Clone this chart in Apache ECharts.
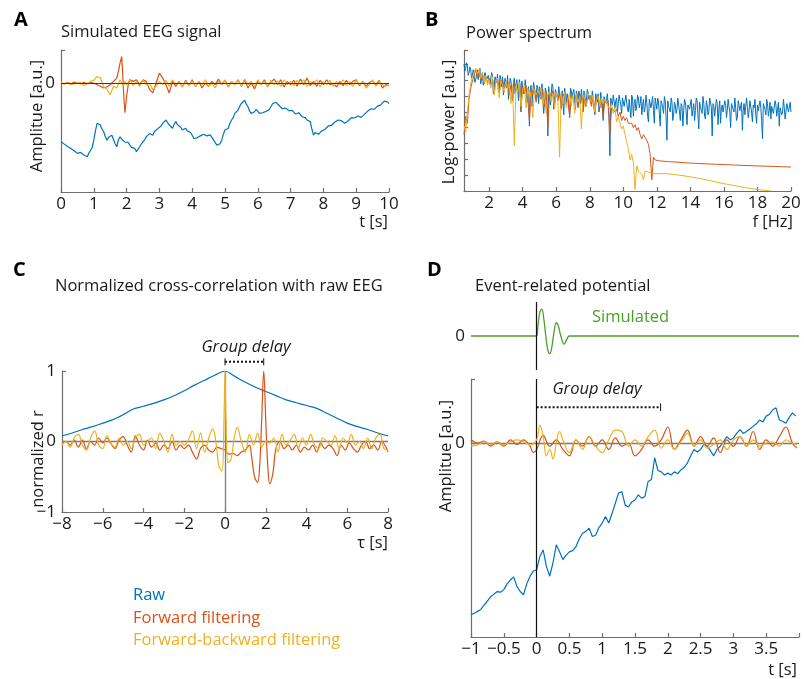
<!DOCTYPE html>
<html><head><meta charset="utf-8">
<script src="https://cdn.jsdelivr.net/npm/echarts@6/dist/echarts.min.js"></script>
<style>html,body{margin:0;padding:0;background:#fff}#c{width:804px;height:679px}</style>
</head><body><div id="c"></div>
<script>
// ---------- DATA ----------
// Panel A: simulated EEG (t in s), raw trace sampled every 0.05 s from t = 0
const aStep = 0.05;
const aBlue = [
 -1.78,-1.74,-1.85,-1.90,-1.92,-1.86,-1.98,-2.04,-2.05,-2.00,-2.13,-2.17,-2.10,-2.06,-2.18,-2.24,-2.23,-2.12,-2.08,-1.96,
 -1.73,-1.45,-1.22,-1.18,-1.27,-1.40,-1.47,-1.62,-1.73,-1.64,-1.68,-1.58,-1.63,-1.84,-1.93,-1.72,-1.63,-1.70,-1.73,-1.79,
 -1.83,-1.80,-1.88,-1.95,-1.93,-1.98,-2.08,-2.00,-1.93,-1.84,-1.78,-1.72,-1.63,-1.60,-1.53,-1.50,-1.58,-1.47,-1.42,-1.38,
 -1.32,-1.30,-1.22,-1.19,-1.12,-1.20,-1.27,-1.29,-1.37,-1.25,-1.17,-1.26,-1.32,-1.34,-1.42,-1.36,-1.37,-1.45,-1.47,-1.50,
 -1.58,-1.68,-1.73,-1.66,-1.68,-1.60,-1.63,-1.55,-1.53,-1.60,-1.58,-1.57,-1.63,-1.72,-1.78,-1.88,-1.93,-1.84,-1.73,-1.55,
 -1.42,-1.44,-1.37,-1.22,-1.12,-1.05,-0.92,-0.90,-0.82,-0.70,-0.62,-0.60,-0.52,-0.64,-0.72,-0.85,-0.92,-0.86,-0.87,-0.80,
 -0.82,-0.92,-0.97,-0.90,-0.92,-0.86,-0.82,-0.80,-0.72,-0.63,-0.57,-0.58,-0.62,-0.68,-0.72,-0.78,-0.82,-0.76,-0.77,-0.84,
 -0.82,-0.83,-0.87,-0.94,-0.97,-0.90,-0.92,-1.02,-1.07,-1.05,-1.12,-1.15,-1.17,-1.40,-1.58,-1.50,-1.47,-1.55,-1.53,-1.45,
 -1.42,-1.40,-1.37,-1.30,-1.32,-1.28,-1.27,-1.18,-1.12,-1.12,-1.07,-1.14,-1.17,-1.22,-1.22,-1.15,-1.12,-1.05,-1.02,-1.06,
 -1.07,-1.00,-0.97,-1.04,-1.02,-0.95,-0.92,-0.85,-0.82,-0.78,-0.72,-0.80,-0.77,-0.70,-0.67,-0.66,-0.62,-0.55,-0.52,-0.57,
 -0.62];
const aRed = [[0,0],[0.1,-0.03],[0.2,0.02],[0.3,-0.02],[0.4,0.03],[0.5,0],[0.6,-0.03],[0.7,0.02],[0.8,-0.02],[0.9,0.01],
 [1.0,0],[1.1,-0.05],[1.2,-0.1],[1.3,-0.15],[1.4,-0.12],[1.5,-0.05],[1.6,0.05],[1.7,0.15],[1.75,0.35],[1.8,0.6],[1.85,0.8],
 [1.88,0.3],[1.92,-0.5],[1.95,-0.9],[2.0,-0.4],[2.05,-0.05],[2.1,0.1],[2.2,0.05],[2.3,0.1],[2.4,-0.05],[2.5,0.1],[2.6,0.05],
 [2.7,-0.2],[2.8,-0.3],[2.9,0],[3.0,0.3],[3.1,0.15],[3.2,-0.05],[3.3,-0.3],[3.4,0.05],[3.5,-0.1],[3.6,0.05],[3.7,-0.12],
 [3.8,0.08],[3.9,-0.08],[4.0,0.1],[4.1,-0.1],[4.2,0.05],[4.3,-0.15],[4.4,0],[4.5,-0.1],[4.6,0.05],[4.7,-0.05],[4.8,0.12],
 [4.9,-0.05],[5.0,0.08],[5.1,-0.12],[5.2,0.05],[5.3,-0.05],[5.4,0.1],[5.5,-0.1],[5.6,0.08],[5.7,-0.15],[5.8,0],[5.9,-0.18],
 [6.0,0.05],[6.1,-0.05],[6.2,0.1],[6.3,-0.1],[6.4,0.02],[6.5,0.12],[6.6,-0.05],[6.7,0.1],[6.8,-0.12],[6.9,0.05],[7.0,-0.05],
 [7.1,0.08],[7.2,-0.1],[7.3,0.12],[7.4,-0.05],[7.5,0.15],[7.6,-0.08],[7.7,0.05],[7.8,-0.1],[7.9,0.08],[8.0,-0.05],[8.1,0.1],
 [8.2,-0.05],[8.3,0],[8.4,-0.12],[8.5,0.05],[8.6,-0.08],[8.7,0.08],[8.8,-0.05],[8.9,0.05],[9.0,0.1],[9.1,-0.08],[9.2,0.05],
 [9.3,-0.1],[9.4,0.02],[9.5,0.06],[9.6,-0.05],[9.7,0.08],[9.8,-0.15],[9.9,-0.05],[10,-0.08]];
const aYellow = [[0,0.02],[0.1,-0.02],[0.2,0.01],[0.3,-0.05],[0.4,-0.03],[0.5,0.01],[0.6,0.02],[0.7,-0.08],[0.8,-0.03],[0.9,0.05],
 [1.0,0.08],[1.1,0.2],[1.15,0.25],[1.2,0.15],[1.3,-0.1],[1.4,-0.2],[1.5,-0.35],[1.6,-0.1],[1.7,-0.15],[1.8,0.1],[1.85,0.15],
 [1.9,-0.1],[1.95,0.05],[2.0,-0.05],[2.1,0.1],[2.2,-0.08],[2.3,0.05],[2.4,-0.1],[2.5,0.08],[2.6,-0.05],[2.7,0],[2.8,-0.2],
 [2.9,-0.1],[3.0,0.05],[3.1,-0.05],[3.2,0.08],[3.3,-0.1],[3.4,0.1],[3.5,-0.05],[3.6,0.05],[3.7,-0.12],[3.8,0.05],[3.9,-0.08],
 [4.0,0.06],[4.1,-0.1],[4.2,0.05],[4.3,-0.05],[4.4,0.1],[4.5,-0.1],[4.6,0],[4.7,-0.15],[4.8,0.05],[4.9,-0.05],[5.0,0.1],
 [5.1,-0.12],[5.2,0.05],[5.3,-0.05],[5.4,0.08],[5.5,-0.1],[5.6,0.12],[5.7,-0.05],[5.8,0.05],[5.9,-0.1],[6.0,0.1],[6.1,-0.05],
 [6.2,0.05],[6.3,-0.12],[6.4,0.08],[6.5,-0.05],[6.6,0.06],[6.7,-0.1],[6.8,0.1],[6.9,-0.05],[7.0,0.05],[7.1,-0.08],[7.2,0.08],
 [7.3,-0.05],[7.4,0.1],[7.5,-0.1],[7.6,0.05],[7.7,-0.05],[7.8,0.1],[7.9,-0.12],[8.0,0.05],[8.1,-0.05],[8.2,0.08],[8.3,-0.1],
 [8.4,0.05],[8.5,-0.05],[8.6,0.1],[8.7,-0.08],[8.8,0.05],[8.9,-0.1],[9.0,0.08],[9.1,-0.05],[9.2,0.05],[9.3,-0.15],[9.4,-0.05],
 [9.5,0.1],[9.6,-0.1],[9.7,0.05],[9.8,-0.05],[9.9,-0.1],[10,-0.05]];

// Panel B: power spectrum (f in Hz, log-power arbitrary units)
// raw: values at 0.5, 0.6, ... 20.0 Hz and in-between values at 0.55, 0.65, ... 19.95 Hz
const bStart = 0.5, bStep = 0.1;
const bBlue = [9.0,8.7,8.9,8.4,8.6,
 8.2,8.5,7.9,8.6,8.3,7.6,8.4,8.1,8.5,7.8,
 8.3,7.7,8.2,7.4,8.0,8.3,7.2,7.9,8.1,7.5,
 7.9,8.2,7.0,7.8,6.6,8.0,7.6,7.3,7.9,5.6,
 7.7,7.2,7.8,6.8,4.6,7.5,7.0,7.6,6.5,7.3,
 7.4,6.7,7.5,6.2,7.2,3.9,7.3,6.9,7.4,6.4,
 7.2,6.6,7.3,5.9,7.0,7.3,6.3,6.9,5.2,7.1,
 7.0,6.5,7.1,6.0,6.8,7.2,5.7,6.9,6.4,7.0,
 6.8,6.2,7.0,5.4,6.7,6.9,6.0,6.6,5.0,6.8,
 6.5,6.9,2.5,6.3,6.8,5.9,6.6,6.2,6.7,5.5,
 6.6,6.1,6.7,5.6,6.4,6.8,5.3,6.5,6.0,6.6,
 6.2,5.4,6.5,5.9,6.3,4.9,6.4,6.0,5.7,6.6,
 5.8,6.3,4.6,6.2,5.5,6.4,3.6,6.0,5.6,6.3,
 5.4,6.1,5.8,6.5,5.0,6.0,5.7,6.3,4.7,6.2,
 5.9,5.3,6.2,5.7,6.4,4.4,6.0,5.5,6.2,5.1,
 6.1,5.6,6.3,3.9,6.0,5.4,6.2,5.8,4.8,6.1,
 5.5,6.2,5.7,6.0,4.5,6.3,5.6,5.9,5.2,6.1,
 5.8,4.3,6.2,5.5,6.0,5.7,6.3,4.9,5.9,5.4,
 6.1,5.6,5.9,3.7,6.0,5.4,6.2,5.7,5.1,6.0,
 5.5,6.1,5.8,4.6,6.0,5.6,5.9,5.2,6.1,5.7,
 5.6];
const bBlueMid = [8.5,9.1,8.2,8.8,8.0,
 8.6,7.7,8.3,7.9,8.7,8.0,7.5,8.4,7.9,8.2,
 7.6,8.4,6.9,8.1,7.7,7.0,8.2,7.4,6.8,8.0,
 7.3,6.5,8.0,7.1,7.7,6.9,7.9,6.4,7.5,7.8,
 6.9,7.9,6.3,7.4,7.1,6.0,7.7,6.9,7.5,6.2,
 7.1,7.6,5.5,7.3,6.8,7.4,6.1,7.6,5.8,7.2,
 6.8,7.4,6.5,7.1,5.4,7.2,6.9,6.1,7.3,6.6,
 7.2,5.8,6.9,7.1,6.2,6.6,7.1,6.0,7.2,6.5,
 6.6,7.1,5.9,6.9,6.3,5.6,7.0,6.1,6.7,6.3,
 6.9,5.2,6.6,6.1,6.9,6.4,5.6,6.8,6.1,6.6,
 6.0,6.8,5.8,6.5,5.2,6.6,6.2,5.7,6.8,5.9,
 6.7,6.0,5.6,6.8,5.3,6.5,5.9,6.7,4.8,6.2,
 6.6,5.5,6.4,5.9,6.7,5.2,6.4,5.8,6.6,5.0,
 6.3,5.5,6.6,5.6,6.2,4.6,6.5,5.6,6.1,5.8,
 6.5,5.8,5.0,6.6,5.4,6.3,5.7,6.7,5.3,6.4,
 5.4,6.6,5.9,6.2,5.3,6.5,4.7,6.4,5.9,5.6,
 6.4,5.2,6.5,5.6,6.2,5.8,6.6,5.0,6.4,5.7,
 6.3,5.7,5.4,6.6,5.2,6.4,5.6,6.1,6.5,4.8,
 5.7,6.4,5.0,6.2,5.8,6.5,5.3,6.3,6.0,5.5,
 6.4,5.3,6.3,5.9,5.4,6.5,5.1,6.2,5.6,6.3];
const bRedLow = [4.0,5.3,4.8,6.5,7.3,
 7.8,8.2,8.6,8.0,8.4,7.9,8.2,7.6,8.1,7.7,
 8.0,7.5,7.9,7.2,7.8,8.0,7.0,7.7,7.9,7.3,
 7.6,7.9,6.8,7.5,6.4,7.7,7.3,7.0,7.6,5.8,
 7.4,6.9,7.5,6.5,5.0,7.2,6.8,7.3,6.3,7.0,
 7.1,6.5,7.2,6.0,6.9,4.5,7.0,6.7,7.1,6.2,
 6.9,6.4,7.0,5.8,6.7,7.0,6.1,6.6,5.3,6.8,
 6.7,6.3,6.8,5.9,6.6,6.9,5.6,6.6,6.2,6.7,
 6.5,6.0,6.7,5.5,6.4,6.6,5.9,6.3,5.2,6.4,
 6.2,6.4,4.0,5.9,6.0,5.6,5.8,5.3,5.6,5.0,
 5.3,5.0,5.2,4.8,4.9,4.8,4.5,4.7,4.3,4.5,
 4.0,3.7,4.0,3.8,3.6,3.3,2.6,0.8,2.4,2.2,
 2.2,2.15,2.2,2.12,2.16,2.1,2.13,2.08,2.11,2.07];
const bRedTail = [[13,2.05],[13.5,2.02],[14,1.98],[14.5,1.95],[15,1.92],[15.5,1.9],[16,1.87],[16.5,1.85],[17,1.82],[17.5,1.8],[18,1.78],[18.5,1.76],[19,1.74],[19.5,1.72],[20,1.7]];
const bYelLow = [4.6,4.2,5.6,6.8,7.6,
 8.1,8.4,8.7,8.3,8.6,8.0,8.4,7.7,8.2,7.5,
 7.9,7.3,8.1,6.8,7.7,8.0,6.6,7.8,7.5,7.0,
 7.8,7.2,7.6,6.2,7.5,3.2,7.4,7.0,7.7,6.0,
 7.2,7.5,5.9,7.3,6.6,7.0,5.2,7.2,6.8,7.1,
 6.9,7.3,6.1,7.0,5.5,6.8,7.1,6.3,6.9,5.8,
 7.0,6.5,2.4,6.9,6.2,7.0,5.9,6.6,6.9,6.0,
 6.8,5.5,6.9,6.3,6.7,4.4,6.8,6.5,6.0,6.9,
 6.7,6.3,6.8,5.6,6.5,6.7,6.0,6.6,6.2,6.5,
 6.4,6.0,5.8,6.2,5.5,5.9,4.9,5.3,4.8,4.4,
 4.6,4.0,3.5,3.0,2.2,2.6,2.0,0.1,1.8,1.4,
 1.5,1.2,0.8,1.4,1.3,1.35,1.3,1.28,1.25,1.22];
const bYelTail = [[12,1.28],[12.5,1.24],[13,1.18],[13.5,1.1],[14,1.0],[14.5,0.9],[15,0.78],[15.5,0.65],[16,0.52],[16.5,0.41],[17,0.3],[17.5,0.19],[18,0.1],[18.4,0.05],[18.8,0.0]];

// Panel C: normalized cross-correlation (tau in s)
const cBlue = [[-8,0.08],[-7.5,0.12],[-7,0.17],[-6.5,0.21],[-6,0.26],[-5.5,0.31],[-5,0.38],[-4.5,0.46],[-4,0.5],[-3.5,0.54],
 [-3,0.59],[-2.5,0.65],[-2,0.72],[-1.5,0.8],[-1,0.87],[-0.5,0.94],[0,1.0],[0.5,0.92],[1,0.84],[1.5,0.77],[2,0.71],[2.5,0.65],
 [3,0.59],[3.5,0.55],[4,0.51],[4.5,0.47],[5,0.4],[5.5,0.33],[6,0.26],[6.5,0.21],[7,0.17],[7.5,0.12],[8,0.08]];
const cRed = [[-8,-0.02],[-7.8,0],[-7.6,-0.05],[-7.4,0.02],[-7.2,-0.08],[-7,0.02],[-6.8,-0.1],[-6.6,0],[-6.4,-0.05],[-6.2,0.05],
 [-6,-0.02],[-5.8,0.05],[-5.6,-0.03],[-5.4,-0.1],[-5.2,0.02],[-5,0.07],[-4.8,-0.05],[-4.6,-0.15],[-4.4,0.08],[-4.2,-0.05],
 [-4,-0.12],[-3.8,0.02],[-3.6,-0.08],[-3.4,-0.02],[-3.2,-0.12],[-3,-0.05],[-2.8,-0.1],[-2.6,0],[-2.4,-0.12],[-2.2,-0.05],
 [-2,-0.1],[-1.8,-0.05],[-1.6,-0.15],[-1.4,-0.25],[-1.2,-0.1],[-1,-0.05],[-0.8,-0.12],[-0.6,-0.15],[-0.4,-0.08],[-0.2,-0.1],
 [0,-0.12],[0.2,-0.18],[0.4,-0.17],[0.6,-0.2],[0.8,-0.15],[1,-0.12],[1.2,-0.05],[1.3,-0.2],[1.45,-0.5],[1.6,-0.58],[1.7,-0.35],
 [1.8,0.3],[1.9,1.0],[2.0,0.3],[2.1,-0.35],[2.2,-0.6],[2.35,-0.45],[2.5,-0.1],[2.7,0],[2.9,-0.1],[3.1,-0.05],[3.3,-0.12],
 [3.5,-0.05],[3.7,-0.15],[3.9,-0.08],[4.1,-0.12],[4.3,-0.05],[4.5,-0.15],[4.7,-0.02],[4.9,-0.1],[5.1,-0.05],[5.3,-0.1],
 [5.5,-0.2],[5.7,-0.05],[5.9,-0.12],[6.1,-0.02],[6.3,-0.1],[6.5,-0.15],[6.7,-0.05],[6.9,0],[7.1,-0.1],[7.3,-0.05],[7.5,-0.12],
 [7.7,0],[7.9,-0.08],[8,-0.15]];
const cYellow = [[-8,-0.05],[-7.8,0],[-7.6,-0.08],[-7.4,0.05],[-7.2,0.1],[-7,-0.05],[-6.8,-0.12],[-6.6,0.05],[-6.4,0.15],[-6.2,-0.05],
 [-6,-0.1],[-5.8,0.08],[-5.6,-0.02],[-5.4,-0.08],[-5.2,0.05],[-5,-0.05],[-4.8,0],[-4.6,-0.1],[-4.4,0.05],[-4.2,0.1],[-4,-0.05],
 [-3.8,0],[-3.6,0.05],[-3.4,-0.1],[-3.2,0.12],[-3,0],[-2.8,-0.15],[-2.6,0.1],[-2.4,-0.05],[-2.2,0],[-2,-0.05],[-1.8,0.02],
 [-1.6,0.15],[-1.4,-0.1],[-1.2,0.12],[-1,-0.15],[-0.8,0.05],[-0.6,0.18],[-0.45,0],[-0.3,-0.35],[-0.15,-0.42],[-0.05,0.3],[0,1.0],
 [0.05,0.3],[0.15,-0.3],[0.3,-0.25],[0.45,0.05],[0.6,0.2],[0.8,0],[1,-0.15],[1.2,0.1],[1.4,-0.05],[1.6,0.12],[1.8,-0.08],[2,0],
 [2.2,-0.02],[2.4,0.05],[2.6,-0.15],[2.8,0.1],[3,-0.05],[3.2,0.02],[3.4,0.1],[3.6,-0.1],[3.8,0.05],[4,-0.05],[4.2,0.1],[4.4,-0.05],
 [4.6,-0.1],[4.8,0.05],[5,0],[5.2,-0.05],[5.4,0.08],[5.6,-0.1],[5.8,0.05],[6,-0.02],[6.2,0.1],[6.4,-0.05],[6.6,0],[6.8,-0.1],
 [7,0.05],[7.2,-0.1],[7.4,0.05],[7.6,0.1],[7.8,-0.1],[8,-0.12]];
const cDelay = [0, 1.9];      // group delay span (s)

// Panel D: event-related potential (t in s)
const dSim = [[-1,0],[0,0],[0.02,0.3],[0.05,0.7],[0.08,0.79],[0.11,0.5],[0.14,0],[0.17,-0.4],[0.2,-0.52],[0.23,-0.35],[0.26,0.05],
 [0.3,0.39],[0.33,0.3],[0.37,0],[0.42,-0.24],[0.46,-0.1],[0.5,0],[4,0]];
const dBlue = [[-1,-2.68],[-0.95,-2.66],[-0.9,-2.63],[-0.85,-2.6],[-0.8,-2.53],[-0.75,-2.47],[-0.7,-2.4],[-0.65,-2.36],[-0.6,-2.32],
 [-0.55,-2.33],[-0.5,-2.29],[-0.45,-2.2],[-0.4,-2.14],[-0.35,-2.09],[-0.3,-2.24],[-0.25,-2.32],[-0.2,-2.37],[-0.15,-2.2],[-0.1,-2.08],
 [-0.05,-2.0],[0,-1.98],[0.05,-1.77],[0.1,-1.67],[0.15,-1.93],[0.2,-2.08],[0.25,-1.87],[0.3,-1.59],[0.35,-1.7],[0.4,-1.82],
 [0.45,-1.75],[0.5,-1.7],[0.55,-1.68],[0.6,-1.62],[0.65,-1.5],[0.7,-1.41],[0.75,-1.38],[0.8,-1.33],[0.85,-1.46],[0.9,-1.44],
 [0.95,-1.32],[1,-1.25],[1.05,-1.15],[1.1,-1.25],[1.15,-1.1],[1.2,-0.94],[1.25,-0.78],[1.3,-0.76],[1.35,-0.97],[1.4,-1.0],
 [1.45,-0.92],[1.5,-0.89],[1.55,-0.81],[1.6,-0.86],[1.65,-0.84],[1.7,-0.6],[1.75,-0.57],[1.8,-0.23],[1.85,-0.43],[1.9,-0.45],
 [1.95,-0.5],[2,-0.47],[2.05,-0.5],[2.1,-0.45],[2.15,-0.48],[2.2,-0.42],[2.25,-0.38],[2.3,-0.31],[2.35,-0.2],[2.4,-0.1],
 [2.45,-0.14],[2.5,-0.1],[2.55,-0.02],[2.6,-0.05],[2.65,-0.12],[2.7,-0.2],[2.75,-0.1],[2.8,-0.05],[2.85,0.02],[2.9,0.1],
 [2.95,0.05],[3,0.08],[3.05,0.15],[3.1,0.21],[3.15,0.15],[3.2,0.18],[3.25,0.22],[3.3,0.26],[3.35,0.3],[3.4,0.36],[3.45,0.33],
 [3.5,0.42],[3.55,0.45],[3.6,0.52],[3.65,0.55],[3.7,0.36],[3.75,0.34],[3.8,0.31],[3.85,0.4],[3.9,0.47],[3.95,0.42]];
const dRed = [[-1,0.05],[-0.9,0],[-0.8,0.03],[-0.7,-0.05],[-0.6,0.02],[-0.5,-0.05],[-0.4,0.05],[-0.3,-0.02],[-0.2,0.05],[-0.1,-0.05],
 [-0.05,-0.15],[0,-0.1],[0.1,0.12],[0.2,-0.05],[0.3,0.05],[0.4,-0.1],[0.5,-0.2],[0.6,0.05],[0.7,-0.05],[0.8,0.1],[0.9,-0.05],
 [1,0.05],[1.1,-0.1],[1.2,0.08],[1.3,-0.05],[1.4,0],[1.5,-0.2],[1.6,-0.1],[1.7,0.05],[1.8,-0.05],[1.9,0.05],[2,0.25],[2.1,-0.1],
 [2.2,0.05],[2.3,0.2],[2.4,-0.05],[2.5,0.1],[2.6,-0.05],[2.7,0.08],[2.8,-0.15],[2.9,0.05],[3,-0.05],[3.1,0.1],[3.2,-0.05],
 [3.3,0.18],[3.4,-0.1],[3.5,0.05],[3.6,-0.05],[3.7,0.1],[3.8,0.25],[3.9,0],[3.97,-0.08]];
const dYellow = [[-1,-0.05],[-0.9,-0.03],[-0.8,0.02],[-0.7,-0.02],[-0.6,0.02],[-0.5,-0.03],[-0.4,0.02],[-0.3,0.05],[-0.2,0.02],
 [-0.1,-0.03],[0,0.05],[0.05,0.28],[0.1,0.1],[0.15,-0.2],[0.2,-0.1],[0.25,-0.25],[0.3,0],[0.35,0.18],[0.4,0.05],[0.5,-0.15],
 [0.6,0.05],[0.7,-0.1],[0.8,0.1],[0.9,-0.05],[1,-0.15],[1.1,0.05],[1.2,0.2],[1.3,0.18],[1.4,-0.05],[1.5,0.05],[1.6,-0.05],
 [1.7,0.1],[1.8,0.2],[1.9,-0.08],[2,0.05],[2.1,-0.1],[2.2,0.02],[2.3,0.15],[2.4,-0.05],[2.5,0.05],[2.6,-0.08],[2.7,-0.02],
 [2.8,0.05],[2.9,-0.1],[3,0.05],[3.1,0.1],[3.2,-0.05],[3.3,0.05],[3.4,-0.05],[3.5,0],[3.6,0.02],[3.7,-0.05],[3.8,0.05],[3.9,0],[3.97,-0.02]];
const dDelay = [0, 1.89];

const legendNames = ['Raw', 'Forward filtering', 'Forward-backward filtering'];
const bTicks = [2,4,6,8,10,12,14,16,18,20];

// ---------- STYLE ----------
const FONT = '"Open Sans", sans-serif';
const BLUE = '#0072BD', RED = '#D95319', YEL = '#EDB120', GREEN = '#4A9E2A';
const AX = '#6e6e6e', TXT = '#1a1a1a';
const minus = v => String(v).replace('-', '\u2212');

const chart = echarts.init(document.getElementById('c'), null, {renderer: 'canvas'});

function xax(gi, min, max, extra) {
  return Object.assign({
    gridIndex: gi, type: 'value', min: min, max: max,
    axisLine: {show: true, onZero: false, lineStyle: {color: AX, width: 1.2}},
    axisTick: {show: true, inside: true, length: 4, lineStyle: {color: AX, width: 1.2}},
    axisLabel: {color: TXT, fontSize: 17, fontFamily: FONT, margin: 4, formatter: minus},
    splitLine: {show: false}
  }, extra || {});
}
function yax(gi, min, max, extra) {
  return Object.assign({
    gridIndex: gi, type: 'value', min: min, max: max,
    axisLine: {show: true, onZero: false, lineStyle: {color: AX, width: 1.2}},
    axisTick: {show: true, inside: true, length: 4, lineStyle: {color: AX, width: 1.2}},
    axisLabel: {color: TXT, fontSize: 17, fontFamily: FONT, margin: 6, formatter: minus},
    splitLine: {show: false}
  }, extra || {});
}
function line(gi, data, color, extra) {
  return Object.assign({
    type: 'line', xAxisIndex: gi, yAxisIndex: gi, data: data, showSymbol: false, symbol: 'none',
    lineStyle: {color: color, width: 1.2}, itemStyle: {color: color}, animation: false, silent: true
  }, extra || {});
}
function hvLine(axis, value, color, width) {
  const d = {}; d[axis] = value;
  return {silent: true, symbol: 'none', label: {show: false}, animation: false,
    lineStyle: {color: color, width: width, type: 'solid'}, data: [d]};
}

const aData = aBlue.map((v, i) => [+(i * aStep).toFixed(2), v]);
const bBlueData = [];
bBlue.forEach((v, i) => {
  bBlueData.push([+(bStart + i * bStep).toFixed(2), v]);
  if (i < bBlueMid.length) bBlueData.push([+(bStart + (i + 0.5) * bStep).toFixed(3), bBlueMid[i]]);
});
const bRedData = bRedLow.map((v, i) => [+(bStart + i * bStep).toFixed(2), v]).concat(bRedTail);
const bYelData = bYelLow.map((v, i) => [+(bStart + i * bStep).toFixed(2), v]).concat(bYelTail);

const cY = 1.13, dY = 0.56;  // vertical placement of the group-delay brackets (axis units)
const T = '16.5px ' + FONT, L = 'bold 20px ' + FONT, TI = 'italic 16.5px ' + FONT;

const option = {
  animation: false,
  grid: [
    {left: 61, top: 50, width: 328, height: 142},
    {left: 464, top: 50, width: 327, height: 141},
    {left: 62, top: 371, width: 326, height: 141},
    {left: 471, top: 302, width: 328, height: 68},
    {left: 471, top: 379, width: 328, height: 258}
  ],
  xAxis: [
    xax(0, 0, 10, {interval: 1}),
    xax(1, 0.5, 20, {axisTick: {show: true, inside: true, length: 4, customValues: bTicks, lineStyle: {color: AX, width: 1.2}},
      axisLabel: {color: TXT, fontSize: 17, fontFamily: FONT, margin: 4, customValues: bTicks}}),
    xax(2, -8, 8, {interval: 2}),
    xax(3, -1, 4, {show: false}),
    xax(4, -1, 4, {interval: 0.5, axisLabel: {color: TXT, fontSize: 17, fontFamily: FONT, margin: 4,
      formatter: v => (v >= 4 ? '' : minus(v))}})
  ],
  yAxis: [
    yax(0, -3.3, 1, {axisTick: {show: true, inside: true, length: 4, customValues: [0, 1], lineStyle: {color: AX, width: 1.2}},
      axisLabel: {color: TXT, fontSize: 17, fontFamily: FONT, margin: 6, customValues: [0]}}),
    yax(1, 0, 10, {interval: 1.123, axisLabel: {show: false}}),
    yax(2, -1, 1, {interval: 1}),
    yax(3, -1, 1, {axisLine: {show: false}, axisTick: {show: false},
      axisLabel: {color: TXT, fontSize: 17, fontFamily: FONT, margin: 6, customValues: [0]}}),
    yax(4, -3.03, 1, {axisTick: {show: true, inside: true, length: 4, customValues: [0, 1], lineStyle: {color: AX, width: 1.2}},
      axisLabel: {color: TXT, fontSize: 17, fontFamily: FONT, margin: 6, customValues: [0]}})
  ],
  series: [
    // A
    line(0, aData, BLUE, {markLine: hvLine('yAxis', 0, '#3a3a3a', 1.2), z: 2}),
    line(0, aRed, RED, {z: 3}),
    line(0, aYellow, YEL, {z: 4}),
    // B
    line(1, bBlueData, BLUE, {lineStyle: {color: BLUE, width: 1}}),
    line(1, bRedData, RED, {lineStyle: {color: RED, width: 1}}),
    line(1, bYelData, YEL, {lineStyle: {color: YEL, width: 1}}),
    // C
    line(2, cBlue, BLUE, {smooth: 0.3, z: 3,
      markLine: {silent: true, symbol: 'none', label: {show: false}, animation: false,
        lineStyle: {color: '#7a7a7a', width: 1.3, type: 'solid'}, data: [{yAxis: 0}, {xAxis: 0}]}}),
    line(2, cRed, RED, {smooth: 0.4, z: 4}),
    line(2, cYellow, YEL, {smooth: 0.4, z: 5}),
    line(2, cDelay.map(t => [t, cY]), '#111', {clip: false, lineStyle: {color: '#111', width: 2, type: [2, 2]}}),
    line(2, [[cDelay[0], cY - 0.05], [cDelay[0], cY + 0.05]], '#111', {clip: false, lineStyle: {color: '#111', width: 1}}),
    line(2, [[cDelay[1], cY - 0.05], [cDelay[1], cY + 0.05]], '#111', {clip: false, lineStyle: {color: '#111', width: 1}}),
    // D top
    line(3, dSim, GREEN, {lineStyle: {color: GREEN, width: 1.3}, smooth: 0.4,
      markLine: hvLine('xAxis', 0, '#111', 1.2)}),
    // D main
    line(4, dBlue, BLUE, {z: 3,
      markLine: {silent: true, symbol: 'none', label: {show: false}, animation: false,
        data: [{yAxis: 0, lineStyle: {color: '#7a7a7a', width: 1.3, type: 'solid'}},
               {xAxis: 0, lineStyle: {color: '#111', width: 1.2, type: 'solid'}}]}}),
    line(4, dRed, RED, {smooth: 0.4, z: 4}),
    line(4, dYellow, YEL, {smooth: 0.4, z: 5}),
    line(4, dDelay.map(t => [t, dY]), '#111', {clip: false, lineStyle: {color: '#111', width: 2, type: [2, 2]}}),
    line(4, [[dDelay[1], dY - 0.06], [dDelay[1], dY + 0.06]], '#111', {clip: false, lineStyle: {color: '#111', width: 1}})
  ],
  graphic: [
    {type: 'text', x: 14, y: 20, style: {text: 'A', font: L, fill: '#000', textVerticalAlign: 'middle'}},
    {type: 'text', x: 61, y: 32, style: {text: 'Simulated EEG signal', font: T, fill: TXT, textVerticalAlign: 'middle'}},
    {type: 'text', x: 37, y: 116, rotation: Math.PI / 2, style: {text: 'Amplitue [a.u.]', font: T, fill: TXT, textAlign: 'center', textVerticalAlign: 'middle'}},
    {type: 'text', x: 388, y: 222, style: {text: 't [s]', font: T, fill: TXT, textAlign: 'right', textVerticalAlign: 'middle'}},

    {type: 'text', x: 425, y: 20, style: {text: 'B', font: L, fill: '#000', textVerticalAlign: 'middle'}},
    {type: 'text', x: 466, y: 33, style: {text: 'Power spectrum', font: T, fill: TXT, textVerticalAlign: 'middle'}},
    {type: 'text', x: 449, y: 122, rotation: Math.PI / 2, style: {text: 'Log-power [a.u.]', font: T, fill: TXT, textAlign: 'center', textVerticalAlign: 'middle'}},
    {type: 'text', x: 793, y: 222, style: {text: 'f [Hz]', font: T, fill: TXT, textAlign: 'right', textVerticalAlign: 'middle'}},

    {type: 'text', x: 13, y: 270, style: {text: 'C', font: L, fill: '#000', textVerticalAlign: 'middle'}},
    {type: 'text', x: 55, y: 286, style: {text: 'Normalized cross-correlation with raw EEG', font: T, fill: TXT, textVerticalAlign: 'middle'}},
    {type: 'text', x: 246, y: 347, style: {text: 'Group delay', font: TI, fill: TXT, textAlign: 'center', textVerticalAlign: 'middle'}},
    {type: 'text', x: 38, y: 459, rotation: Math.PI / 2, style: {text: 'normalized r', font: T, fill: TXT, textAlign: 'center', textVerticalAlign: 'middle'}},
    {type: 'text', x: 388, y: 543, style: {text: '\u03c4 [s]', font: T, fill: TXT, textAlign: 'right', textVerticalAlign: 'middle'}},

    {type: 'text', x: 427, y: 270, style: {text: 'D', font: L, fill: '#000', textVerticalAlign: 'middle'}},
    {type: 'text', x: 475, y: 286, style: {text: 'Event-related potential', font: T, fill: TXT, textVerticalAlign: 'middle'}},
    {type: 'text', x: 592, y: 317, style: {text: 'Simulated', font: T, fill: GREEN, textVerticalAlign: 'middle'}},
    {type: 'text', x: 597, y: 389, style: {text: 'Group delay', font: TI, fill: TXT, textAlign: 'center', textVerticalAlign: 'middle'}},
    {type: 'text', x: 446, y: 456, rotation: Math.PI / 2, style: {text: 'Amplitue [a.u.]', font: T, fill: TXT, textAlign: 'center', textVerticalAlign: 'middle'}},
    {type: 'text', x: 797, y: 670, style: {text: 't [s]', font: T, fill: TXT, textAlign: 'right', textVerticalAlign: 'middle'}},

    {type: 'text', x: 133, y: 595, style: {text: legendNames[0], font: T, fill: BLUE, textVerticalAlign: 'middle'}},
    {type: 'text', x: 133, y: 618, style: {text: legendNames[1], font: T, fill: RED, textVerticalAlign: 'middle'}},
    {type: 'text', x: 133, y: 640, style: {text: legendNames[2], font: T, fill: YEL, textVerticalAlign: 'middle'}}
  ]
};
chart.setOption(option);
</script>
</body></html>
